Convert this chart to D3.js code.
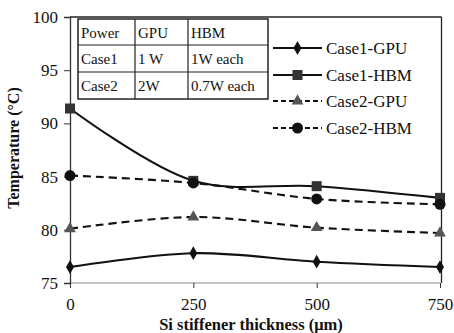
<!DOCTYPE html>
<html><head><meta charset="utf-8">
<script src="https://cdn.jsdelivr.net/npm/d3@7"></script>
<style>body{margin:0;background:#fff}svg{display:block}svg text{font-family:"Liberation Serif","DejaVu Serif",serif !important;fill:#111}</style>
</head><body><svg id="c" width="454" height="333"></svg>
<script>
const thickness = [0, 250, 500, 750];
const case1GPU = [76.5, 77.8, 77.0, 76.5];
const case1HBM = [91.4, 84.6, 84.1, 83.0];
const case2GPU = [80.1, 81.2, 80.2, 79.7];
const case2HBM = [85.1, 84.4, 82.9, 82.4];
const seriesNames = ["Case1-GPU", "Case1-HBM", "Case2-GPU", "Case2-HBM"];
const yTicks = [75, 80, 85, 90, 95, 100];
const tableRows = [["Power", "GPU", "HBM"], ["Case1", "1 W", "1W each"], ["Case2", "2W", "0.7W each"]];

const FONT = '"Liberation Serif","DejaVu Serif",serif';
const svg = d3.select("#c");
const L = 70, R = 440, T = 17, B = 283;
const x = d3.scaleLinear().domain([0, 750]).range([L, R]);
const y = d3.scaleLinear().domain([75, 100]).range([B, T]);

svg.append("line").attr("x1", L).attr("x2", 441.5).attr("y1", T).attr("y2", T).attr("stroke", "#222").attr("stroke-width", 1.3);
svg.append("line").attr("x1", 441.5).attr("x2", 441.5).attr("y1", T).attr("y2", B).attr("stroke", "#222").attr("stroke-width", 1.3);
svg.append("line").attr("x1", L).attr("x2", R).attr("y1", B).attr("y2", B).attr("stroke", "#888").attr("stroke-width", 1);

const ya = svg.append("g").attr("transform", `translate(${L},0)`)
  .call(d3.axisLeft(y).tickValues(yTicks).tickSize(6).tickPadding(5));
ya.attr("font-family", FONT);
ya.select(".domain").attr("stroke", "#333").attr("stroke-width", 1.3);
ya.selectAll(".tick line").attr("stroke", "#333");
ya.selectAll("text").style("font-size", "17px").attr("fill", "#111").attr("dx", "-1");

const xa = svg.append("g").attr("transform", `translate(0,${B})`)
  .call(d3.axisBottom(x).tickValues(thickness).tickSize(5).tickPadding(10).tickSizeOuter(0));
xa.attr("font-family", FONT);
xa.select(".domain").remove();
xa.selectAll(".tick line").attr("stroke", "#333");
xa.selectAll("text").style("font-size", "17px").attr("fill", "#111");

svg.append("text").attr("x", 251).attr("y", 330).attr("text-anchor", "middle").attr("font-family", FONT)
  .style("font-size", "16.5px").style("font-weight", "bold").text("Si stiffener thickness (μm)");
svg.append("text").attr("transform", "translate(19,148) rotate(-90)").attr("text-anchor", "middle").attr("font-family", FONT)
  .style("font-size", "16px").style("font-weight", "bold").text("Temperature (°C)");

const data = [case1GPU, case1HBM, case2GPU, case2HBM];
const dashes = [null, null, "8,5", "8,5"];
const markerFill = ["#111", "#333", "#555", "#111"];
const line = d3.line().x((d, i) => x(thickness[i])).y(d => y(d)).curve(d3.curveCatmullRom.alpha(0.5));

function marker(g, k, cx, cy) {
  if (k === 0) g.append("path").attr("d", d3.symbol(d3.symbolDiamond, 55)()).attr("transform", `translate(${cx},${cy})`).attr("fill", markerFill[k]);
  else if (k === 1) g.append("rect").attr("x", cx - 5).attr("y", cy - 5).attr("width", 10).attr("height", 10).attr("fill", markerFill[k]);
  else if (k === 2) g.append("path").attr("d", d3.symbol(d3.symbolTriangle, 60)()).attr("transform", `translate(${cx},${cy})`).attr("fill", markerFill[k]);
  else g.append("circle").attr("cx", cx).attr("cy", cy).attr("r", 5.5).attr("fill", markerFill[k]);
}

data.forEach((vals, k) => {
  const g = svg.append("g");
  g.append("path").attr("d", line(vals)).attr("fill", "none").attr("stroke", "#111")
    .attr("stroke-width", 2.1).attr("stroke-dasharray", dashes[k]);
  vals.forEach((v, i) => marker(g, k, x(thickness[i]), y(v)));
});

const legY = [48, 75, 101, 128];
seriesNames.forEach((n, k) => {
  const g = svg.append("g");
  g.append("line").attr("x1", 273).attr("x2", 322).attr("y1", legY[k]).attr("y2", legY[k])
    .attr("stroke", "#111").attr("stroke-width", 2).attr("stroke-dasharray", dashes[k] ? "5,3" : null);
  marker(g, k, 297.5, legY[k]);
  g.append("text").attr("x", 326).attr("y", legY[k] + 6).attr("font-family", FONT).style("font-size", "17px").text(n);
});

const colX = [78, 135, 188, 268];
const rowY = [19, 45, 72, 99];
const tg = svg.append("g");
tg.append("rect").attr("x", colX[0]).attr("y", rowY[0]).attr("width", colX[3] - colX[0]).attr("height", rowY[3] - rowY[0])
  .attr("fill", "#fff").attr("stroke", "#222").attr("stroke-width", 1.5);
[1, 2].forEach(i => tg.append("line").attr("x1", colX[i]).attr("x2", colX[i]).attr("y1", rowY[0]).attr("y2", rowY[3]).attr("stroke", "#222").attr("stroke-width", 1.2));
[1, 2].forEach(i => tg.append("line").attr("x1", colX[0]).attr("x2", colX[3]).attr("y1", rowY[i]).attr("y2", rowY[i]).attr("stroke", "#222").attr("stroke-width", 1.2));
tableRows.forEach((row, r) => row.forEach((t, c) => {
  tg.append("text").attr("x", colX[c] + 3).attr("y", rowY[r] + 19).attr("font-family", FONT).style("font-size", "15px").text(t);
}));
</script></body></html>
